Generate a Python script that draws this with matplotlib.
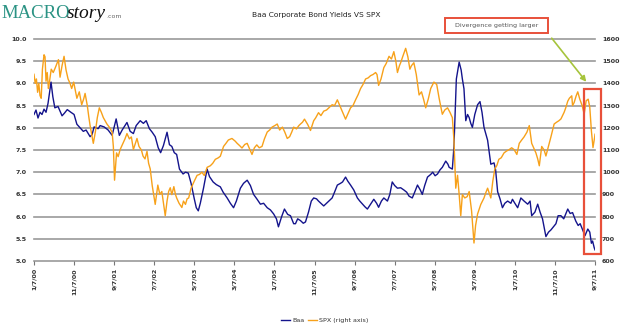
import matplotlib
matplotlib.use("Agg")
import matplotlib.pyplot as plt
from matplotlib.patches import Rectangle, FancyArrowPatch

# Months elapsed since 1/7/00 and weekly-ish readings of Moody's Baa yield (%)
baa_t = [0, 0.5, 1, 1.5, 2, 2.5, 3, 3.5, 4.25, 4.7, 5.2, 6, 7, 7.6, 8.3, 9.2, 10, 10.7,
         11.5, 12.3, 13, 14, 14.5, 15, 16, 16.5, 17.5, 18.5, 19.5, 20.5, 21.3, 22, 23.2,
         24, 24.8, 25.5, 26.5, 27.3, 28, 28.8, 29.5, 30.25, 31, 31.6, 32.3, 33.2, 33.8,
         34.4, 35, 35.6, 36.3, 37.2, 37.8, 38.5, 39.2, 40, 40.5, 41, 41.5, 42.3, 43.2,
         43.8, 44.7, 45.5, 46.5, 47.2, 48.2, 49, 49.8, 50.5, 51.5, 52.3, 53.2, 54, 54.8,
         55.6, 56.5, 57.3, 58.2, 59, 59.8, 60.5, 61, 61.8, 62.5, 63.3, 64, 64.8, 65.25,
         65.8, 66.5, 67.2, 67.75, 68.5, 69.2, 69.8, 70.5, 71, 71.6, 72.3, 73, 73.6, 74.4,
         75, 75.7, 76.5, 77, 77.75, 78.3, 79, 79.8, 80.7, 81.3, 82, 82.6, 83.2, 84, 84.8,
         85.5, 86, 86.7, 87.3, 88.2, 88.8, 89.4, 90, 90.7, 91.5, 92.3, 93, 93.6, 94.4, 95,
         95.7, 96.4, 96.9, 97.5, 98.2, 99, 99.5, 100.1, 100.7, 101.3, 101.9, 102.75, 103.3,
         103.6, 104.4, 104.8, 105.4, 106.1, 106.6, 106.9, 107.3, 107.75, 108.2, 108.6, 109,
         109.4, 110, 110.7, 111.3, 111.8, 112.3, 113.2, 114, 114.8, 115.2, 115.7, 116.3,
         116.9, 117.5, 118.2, 119, 119.4, 120, 120.7, 121.5, 122.3, 123.2, 123.8, 124.2,
         125, 125.7, 126.3, 126.9, 127.75, 128.4, 129, 130.25, 130.8, 131.5, 132.2, 133.2,
         133.8, 134.4, 135.2, 135.8, 136.3, 137, 137.5, 138.2, 138.7, 139.1, 139.4, 139.8,
         140]
baa = [8.30, 8.40, 8.22, 8.35, 8.30, 8.42, 8.35, 8.55, 9.03, 8.70, 8.45, 8.48, 8.27, 8.33,
       8.41, 8.35, 8.30, 8.08, 8.00, 7.92, 7.95, 7.80, 7.85, 8.02, 7.98, 8.05, 8.02, 7.95,
       7.83, 8.20, 7.83, 7.95, 8.12, 7.92, 7.87, 8.05, 8.16, 8.10, 8.16, 7.98, 7.90, 7.80,
       7.55, 7.44, 7.60, 7.90, 7.62, 7.58, 7.44, 7.40, 7.07, 6.96, 7.00, 6.98, 6.75, 6.40,
       6.20, 6.13, 6.30, 6.64, 7.07, 6.90, 6.78, 6.72, 6.67, 6.55, 6.42, 6.30, 6.20, 6.35,
       6.64, 6.75, 6.82, 6.70, 6.50, 6.40, 6.28, 6.30, 6.20, 6.15, 6.06, 5.95, 5.77, 6.00,
       6.17, 6.05, 6.02, 5.84, 5.84, 5.95, 5.91, 5.85, 5.88, 6.10, 6.35, 6.42, 6.40, 6.35,
       6.30, 6.24, 6.30, 6.35, 6.42, 6.55, 6.71, 6.75, 6.78, 6.89, 6.80, 6.71, 6.60, 6.42,
       6.35, 6.28, 6.22, 6.17, 6.28, 6.39, 6.30, 6.21, 6.35, 6.42, 6.35, 6.50, 6.78, 6.70,
       6.64, 6.65, 6.60, 6.55, 6.46, 6.42, 6.55, 6.71, 6.60, 6.50, 6.70, 6.89, 6.95, 7.00,
       6.92, 6.96, 7.05, 7.11, 7.25, 7.18, 7.11, 7.07, 7.58, 9.10, 9.48, 9.30, 9.10, 8.88,
       8.16, 8.30, 8.23, 8.10, 8.01, 8.30, 8.52, 8.59, 8.35, 8.01, 7.72, 7.18, 7.21, 7.05,
       6.56, 6.40, 6.20, 6.30, 6.35, 6.30, 6.39, 6.30, 6.20, 6.42, 6.35, 6.28, 6.35, 6.02,
       6.10, 6.28, 6.10, 5.95, 5.55, 5.65, 5.70, 5.84, 6.02, 6.02, 5.95, 6.17, 6.07, 6.09,
       5.90, 5.80, 5.84, 5.68, 5.57, 5.72, 5.65, 5.40, 5.45, 5.30, 5.25]

# Months elapsed since 1/7/00 and S&P 500 closes
spx_t = [0, 0.3, 0.6, 0.9, 1.2, 1.5, 1.8, 2.1, 2.5, 2.75, 3.0, 3.3, 3.6, 3.8, 4.3, 4.8,
         5.3, 6.1, 6.5, 7.0, 7.5, 8.0, 8.5, 9.0, 9.4, 9.9, 10.7, 11.3, 11.9, 12.4, 12.75,
         13.3, 13.7, 14.0, 14.4, 14.8, 15.3, 15.8, 16.3, 16.8, 17.3, 17.8, 18.2, 18.8,
         19.5, 19.8, 20.1, 20.6, 21.0, 21.5, 22.2, 22.7, 23.2, 23.8, 24.3, 24.8, 25.3,
         25.7, 26.2, 26.8, 27.2, 27.7, 28.2, 28.6, 29.0, 29.5, 30.25, 30.6, 30.9, 31.4,
         31.9, 32.3, 32.75, 33.2, 33.6, 34.0, 34.4, 34.9, 35.3, 35.6, 36.2, 36.9, 37.3,
         37.8, 38.2, 38.6, 39.2, 40.0, 40.7, 41.3, 41.9, 42.5, 43.2, 44.0, 44.6, 45.25,
         46.0, 46.5, 47.3, 47.9, 48.5, 49.4, 50.2, 50.7, 51.3, 51.9, 52.6, 53.2, 53.8,
         54.4, 55.0, 55.6, 56.2, 56.9, 57.5, 58.2, 58.8, 59.4, 60.1, 60.7, 61.3, 62.0,
         62.6, 63.2, 63.8, 64.3, 64.8, 65.5, 66.1, 66.5, 67.0, 67.5, 68.3, 69.0, 69.8,
         70.3, 71.0, 71.6, 72.3, 73.0, 73.6, 74.4, 75.0, 75.7, 76.3, 76.9, 77.75, 78.4,
         79.0, 79.6, 80.25, 80.9, 81.5, 82.1, 82.75, 83.4, 84.0, 84.6, 85.25, 85.6, 86.0,
         86.6, 87.3, 87.9, 88.6, 89.2, 89.8, 90.3, 90.7, 91.2, 91.5, 92.1, 92.75, 93.3,
         93.8, 94.2, 94.8, 95.4, 96.1, 96.7, 97.2, 97.75, 98.4, 99.0, 99.8, 100.5, 101.1,
         101.9, 102.5, 103.2, 103.8, 104.4, 104.8, 105.25, 105.7, 106.1, 106.5, 106.9,
         107.5, 108.1, 108.6, 109.2, 109.8, 110.2, 110.7, 111.5, 112.3, 112.8, 113.2,
         114.0, 114.5, 115.0, 115.5, 116.0, 116.6, 117.3, 117.9, 118.6, 119.2, 119.8,
         120.5, 121.1, 121.7, 122.3, 123.0, 123.6, 124.2, 125.25, 125.7, 126.1, 126.7,
         127.3, 127.75, 128.3, 129.0, 129.8, 130.4, 131.0, 131.5, 132.3, 132.7, 133.2,
         133.6, 134.2, 134.4, 134.8, 135.3, 135.7, 136.2, 136.8, 137.3, 137.8, 138.3,
         138.7, 139.1, 139.5, 139.9, 140.0]
spx = [1441, 1400, 1420, 1360, 1400, 1345, 1333, 1464, 1529, 1520, 1410, 1449, 1377, 1400,
       1464, 1449, 1470, 1507, 1428, 1480, 1522, 1460, 1420, 1400, 1377, 1406, 1333, 1362,
       1304, 1330, 1355, 1300, 1246, 1210, 1170, 1130, 1180, 1246, 1290, 1270, 1246, 1230,
       1217, 1203, 1180, 1116, 964, 1087, 1070, 1102, 1130, 1150, 1174, 1150, 1159, 1102,
       1130, 1152, 1116, 1100, 1073, 1060, 1094, 1040, 1015, 940, 855, 900, 942, 900, 913,
       860, 804, 870, 913, 930, 899, 935, 900, 884, 860, 841, 870, 855, 880, 884, 928, 960,
       986, 990, 1000, 985, 1022, 1029, 1040, 1058, 1065, 1072, 1116, 1130, 1145, 1152,
       1140, 1130, 1120, 1109, 1125, 1130, 1105, 1080, 1110, 1123, 1110, 1116, 1150, 1181,
       1190, 1203, 1210, 1217, 1190, 1203, 1180, 1152, 1160, 1180, 1203, 1195, 1210, 1217,
       1225, 1239, 1215, 1188, 1232, 1245, 1268, 1255, 1275, 1280, 1290, 1304, 1300, 1326,
       1300, 1275, 1239, 1265, 1290, 1300, 1326, 1350, 1377, 1395, 1420, 1425, 1435, 1440,
       1449, 1440, 1391, 1420, 1471, 1490, 1522, 1510, 1543, 1500, 1449, 1480, 1493, 1525,
       1558, 1520, 1464, 1480, 1493, 1440, 1348, 1362, 1330, 1290, 1330, 1377, 1406, 1395,
       1333, 1261, 1280, 1290, 1270, 1246, 1145, 928, 986, 900, 804, 899, 884, 890, 913,
       826, 681, 760, 812, 855, 884, 910, 928, 884, 960, 1015, 1030, 1058, 1065, 1087,
       1095, 1102, 1110, 1102, 1080, 1130, 1145, 1159, 1180, 1210, 1130, 1087, 1060, 1029,
       1116, 1100, 1073, 1110, 1159, 1217, 1225, 1232, 1240, 1270, 1290, 1320, 1333, 1344,
       1300, 1314, 1344, 1362, 1329, 1300, 1262, 1322, 1329, 1292, 1186, 1111, 1156, 1171]

tick_pos = list(range(0, 141, 10))
tick_labels = ["1/7/00", "11/7/00", "9/7/01", "7/7/02", "5/7/03", "3/7/04", "1/7/05",
               "11/7/05", "9/7/06", "7/7/07", "5/7/08", "3/7/09", "1/7/10", "11/7/10",
               "9/7/11"]
left_ticks = [5.0, 5.5, 6.0, 6.5, 7.0, 7.5, 8.0, 8.5, 9.0, 9.5, 10.0]
right_ticks = [600, 700, 800, 900, 1000, 1100, 1200, 1300, 1400, 1500, 1600]

W, H = 620, 326
BAA_COLOR = "#14148c"
SPX_COLOR = "#f7a11a"
GRID = "#9a9a9a"
TXT = "#333333"

fig = plt.figure(figsize=(W / 100, H / 100), dpi=100)
fig.patch.set_facecolor("white")

def fx(px):
    return px / W

def fy(py):
    return 1 - py / H

x0, x1, y0, y1 = 34, 595, 39, 261
ax = fig.add_axes([fx(x0), fy(y1), fx(x1 - x0), (y1 - y0) / H])
ax.set_xlim(0, 140)
ax.set_ylim(5.0, 10.0)
for s in ax.spines.values():
    s.set_visible(False)
for v in left_ticks:
    ax.axhline(v, color=GRID, lw=1.2, zorder=0, clip_on=False)

ax.set_yticks(left_ticks)
ax.set_yticklabels([f"{v:.1f}" for v in left_ticks], fontsize=4.6, color=TXT,
                   fontweight="bold")
ax.tick_params(axis="y", length=0, pad=5)
ax.set_xticks(tick_pos)
ax.set_xticklabels(tick_labels, rotation=90, fontsize=4.6, color=TXT, fontweight="bold")
ax.tick_params(axis="x", length=3, width=0.8, color="#777777", pad=2)

ln_baa, = ax.plot(baa_t, baa, color=BAA_COLOR, lw=1.0, label="Baa", zorder=3)

ax2 = ax.twinx()
ax2.set_ylim(600, 1600)
for s in ax2.spines.values():
    s.set_visible(False)
ax2.set_yticks(right_ticks)
ax2.set_yticklabels([str(v) for v in right_ticks], fontsize=4.6, color=TXT,
                    fontweight="bold")
ax2.tick_params(axis="y", length=0, pad=5)
ln_spx, = ax2.plot(spx_t, spx, color=SPX_COLOR, lw=1.0, label="SPX (right axis)", zorder=2)

# Legend below the date labels
fig.legend([ln_baa, ln_spx], ["Baa", "SPX (right axis)"], loc="center",
           bbox_to_anchor=(fx(325), fy(320)), ncol=2, frameon=False, fontsize=4.6,
           handlelength=1.4, handletextpad=0.3, columnspacing=0.6,
           labelcolor=TXT)

# Title
fig.text(fx(316), fy(15), "Baa Corporate Bond Yields VS SPX", ha="center", va="center",
         fontsize=5.4, color="#222222")

# Site logo
fig.text(fx(1), fy(13), "MACRO", ha="left", va="center", fontsize=13.5,
         family="Liberation Serif", color="#2b9384")
fig.text(fx(67), fy(13), "story", ha="left", va="center", fontsize=14,
         family="Liberation Serif", style="italic", color="#111111")
fig.text(fx(106), fy(17), ".com", ha="left", va="center", fontsize=4.5, color="#666666")

# Call-out box
RED = "#e8503a"
fig.add_artist(Rectangle((fx(445), fy(33)), fx(548 - 445), (33 - 18) / H,
                         transform=fig.transFigure, facecolor="white",
                         edgecolor=RED, lw=1.4))
fig.text(fx(496.5), fy(25.5), "Divergence getting larger", ha="center", va="center",
         fontsize=4.6, color="#555555")

# Highlight frame around the latest weeks
fig.add_artist(Rectangle((fx(584), fy(254)), fx(601 - 584), (254 - 89) / H,
                         transform=fig.transFigure, facecolor="none",
                         edgecolor=RED, lw=1.6, zorder=10))

# Pointer arrow
fig.add_artist(FancyArrowPatch((fx(550), fy(36)), (fx(588), fy(84)),
                               transform=fig.transFigure, arrowstyle="-|>",
                               mutation_scale=8, color="#a6c43c", lw=1.2, zorder=10))

fig.savefig("out.png", dpi=100, facecolor="white")
